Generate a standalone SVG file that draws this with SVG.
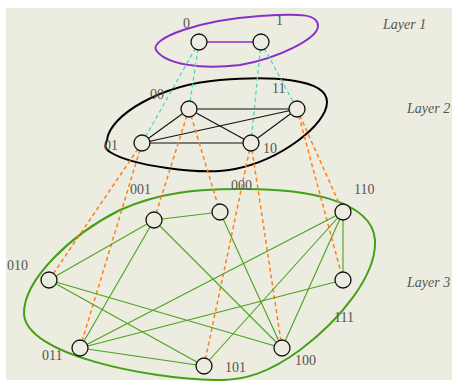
<svg xmlns="http://www.w3.org/2000/svg" width="453" height="381" viewBox="0 0 453 381">
<style>
.lbl{font-family:"Liberation Serif",serif;font-size:14px;fill:#555}
.lay{font-family:"Liberation Serif",serif;font-size:14px;font-style:italic;fill:#555}
.node{fill:#ECECE0;stroke:#111;stroke-width:1.3}
.cy{stroke:#48DDB8;stroke-width:1.3;stroke-dasharray:4,3;fill:none}
.or{stroke:#FF7F1A;stroke-width:1.5;stroke-dasharray:4,3;fill:none}
.e2{stroke:#111;stroke-width:1.1}
.e3{stroke:#4CA21E;stroke-width:1.1}
</style>
<rect x="6" y="8" width="446" height="372" fill="#ECECE0"/>
<g id="layers" fill="none" stroke-width="2">
<path id="layer1" d="M156,50 C150,38 200,20 260,16 C300,13 318,14 318,26 C318,38 280,58 240,65 C200,70 165,64 156,50 Z" stroke="#8B2FC9"/>
<path id="layer2" d="M107,140 C110,115 160,85 220,80 C270,76 327,78 327,102 C327,125 280,160 235,169 C200,176 130,165 110,152 C104,148 105,146 107,140 Z" stroke="#000"/>
<path id="layer3" d="M237,189 C305,188 372,200 375,240 C377,275 340,320 300,350 C270,372 245,381 215,380 C150,379 24,355 24,313 C24,280 70,235 120,210 C160,192 200,189 237,189 Z" stroke="#44A017"/>
</g>
<g id="connectors">
<line x1="199" y1="42" x2="261" y2="42" stroke="#8B2FC9" stroke-width="1.5"/>
<line class="cy" x1="199" y1="42" x2="142" y2="143"/>
<line class="cy" x1="199" y1="42" x2="189" y2="109"/>
<line class="cy" x1="261" y1="42" x2="251" y2="143"/>
<line class="cy" x1="261" y1="42" x2="297" y2="109"/>
<line class="e2" x1="189" y1="109" x2="297" y2="109"/>
<line class="e2" x1="189" y1="109" x2="142" y2="143"/>
<line class="e2" x1="189" y1="109" x2="251" y2="143"/>
<line class="e2" x1="142" y1="143" x2="297" y2="109"/>
<line class="e2" x1="142" y1="143" x2="251" y2="143"/>
<line class="e2" x1="251" y1="143" x2="297" y2="109"/>
<line class="or" x1="142" y1="143" x2="49" y2="280"/>
<line class="or" x1="142" y1="143" x2="80" y2="348"/>
<line class="or" x1="189" y1="109" x2="154" y2="220"/>
<line class="or" x1="189" y1="109" x2="220" y2="212"/>
<line class="or" x1="251" y1="143" x2="204" y2="366"/>
<line class="or" x1="251" y1="143" x2="282" y2="348"/>
<line class="or" x1="297" y1="109" x2="343" y2="280"/>
<line class="or" x1="297" y1="109" x2="343" y2="212"/>
<line class="e3" x1="154" y1="220" x2="220" y2="212"/>
<line class="e3" x1="154" y1="220" x2="49" y2="280"/>
<line class="e3" x1="154" y1="220" x2="80" y2="348"/>
<line class="e3" x1="154" y1="220" x2="282" y2="348"/>
<line class="e3" x1="220" y1="212" x2="282" y2="348"/>
<line class="e3" x1="49" y1="280" x2="282" y2="348"/>
<line class="e3" x1="49" y1="280" x2="204" y2="366"/>
<line class="e3" x1="80" y1="348" x2="343" y2="212"/>
<line class="e3" x1="80" y1="348" x2="343" y2="280"/>
<line class="e3" x1="80" y1="348" x2="204" y2="366"/>
<line class="e3" x1="343" y1="212" x2="343" y2="280"/>
<line class="e3" x1="343" y1="212" x2="204" y2="366"/>
<line class="e3" x1="343" y1="212" x2="282" y2="348"/>
</g>
<g id="n0"><circle class="node" cx="199" cy="42" r="8"/><text class="lbl" x="183" y="28">0</text></g>
<g id="n1"><circle class="node" cx="261" cy="42" r="8"/><text class="lbl" x="276" y="25">1</text></g>
<g id="n00"><circle class="node" cx="189" cy="109" r="8"/><text class="lbl" x="150" y="99">00</text></g>
<g id="n11"><circle class="node" cx="297" cy="109" r="8"/><text class="lbl" x="272" y="93">11</text></g>
<g id="n01"><circle class="node" cx="142" cy="143" r="8"/><text class="lbl" x="104" y="150">01</text></g>
<g id="n10"><circle class="node" cx="251" cy="143" r="8"/><text class="lbl" x="263" y="153">10</text></g>
<g id="n001"><circle class="node" cx="154" cy="220" r="8"/><text class="lbl" x="130" y="194">001</text></g>
<g id="n000"><circle class="node" cx="220" cy="212" r="8"/><text class="lbl" x="231" y="190">000</text></g>
<g id="n110"><circle class="node" cx="343" cy="212" r="8"/><text class="lbl" x="354" y="194">110</text></g>
<g id="n010"><circle class="node" cx="49" cy="280" r="8"/><text class="lbl" x="7" y="270">010</text></g>
<g id="n111"><circle class="node" cx="343" cy="280" r="8"/><text class="lbl" x="334" y="322">111</text></g>
<g id="n011"><circle class="node" cx="80" cy="348" r="8"/><text class="lbl" x="42" y="360">011</text></g>
<g id="n100"><circle class="node" cx="282" cy="348" r="8"/><text class="lbl" x="295" y="365">100</text></g>
<g id="n101"><circle class="node" cx="204" cy="366" r="8"/><text class="lbl" x="225" y="372">101</text></g>
<g id="layer-labels">
<text class="lay" x="383" y="29">Layer 1</text>
<text class="lay" x="407" y="113">Layer 2</text>
<text class="lay" x="407" y="287">Layer 3</text>
</g>
</svg>
